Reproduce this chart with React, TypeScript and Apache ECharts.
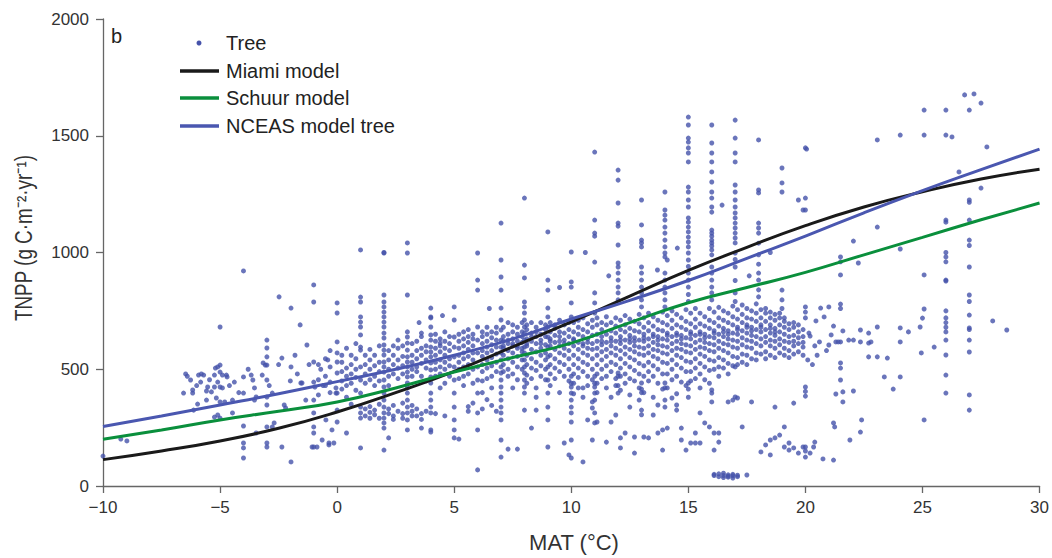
import React, { useEffect, useRef } from "react";
import * as echarts from "echarts";

// ---- Axis ticks ----
const xTicks = [-10, -5, 0, 5, 10, 15, 20, 25, 30];
const yTicks = [0, 500, 1000, 1500, 2000];

// ---- Model curves ----
const curveX = [-10, -7.5, -5, -2.5, 0, 2.5, 5, 7.5, 10, 12.5, 15, 17.5, 20, 22.5, 25, 27.5, 30];
const miami = [113, 150, 193, 247, 317, 400, 491, 596, 703, 813, 923, 1022, 1115, 1195, 1260, 1315, 1357];
const schuur = [200, 240, 283, 320, 360, 420, 488, 550, 612, 700, 785, 850, 915, 990, 1065, 1140, 1212];
const nceas = [255, 300, 347, 395, 447, 500, 560, 630, 715, 795, 880, 975, 1070, 1170, 1265, 1355, 1443];

// ---- Tree observations: left region (MAT < 0) ----
const treeLeft: [number, number][] = [
  [-10, 128], [-9.24, 201], [-8.98, 193],
  [-6.56, 398], [-6.47, 480], [-6.26, 454], [-6.17, 411], [-6.17, 398], [-5.96, 351], [-6.13, 325],
  [-5.92, 475], [-5.8, 480], [-5.7, 475], [-5.83, 445], [-5.58, 407], [-5.53, 424], [-5.37, 403],
  [-5.58, 368], [-5.24, 475], [-5.2, 505], [-5.1, 510], [-5.0, 518], [-5.0, 488], [-4.9, 475],
  [-5.1, 445], [-5.0, 424], [-4.9, 420], [-5.24, 424], [-5.16, 377], [-5.0, 360], [-4.8, 360],
  [-5.1, 304], [-5.24, 295], [-5.0, 291], [-4.73, 475], [-4.7, 467], [-4.47, 368], [-4.39, 445],
  [-4.47, 313], [-5.0, 681], [-3.67, 475], [-3.6, 454], [-3.53, 420], [-3.46, 381], [-3.53, 368],
  [-3.2, 475], [-3.16, 527], [-3.07, 518], [-3.46, 227], [-2.77, 398], [-2.69, 270], [-2.77, 253],
  [-2.26, 347], [-2.2, 334], [-1.55, 441], [-1.5, 441], [-1.34, 368], [-0.95, 424], [-0.48, 283],
  [-0.64, 197], [-0.35, 176], [-1.07, 167], [-0.86, 167], [-0.22, 240], [-0.14, 184], [-0.05, 420],
  [-0.05, 398], [-2.48, 810], [-1.97, 762], [-1.58, 690], [-1.29, 604], [-1.97, 510], [-2.36, 548],
  [-1.97, 103], [-2.36, 167], [-0.35, 184], [-6.4, 470], [-6.0, 430], [-5.45, 455], [-4.6, 430],
  [-4.2, 400], [-3.8, 500], [-2.5, 520], [-2.0, 450], [-1.7, 480], [-0.7, 500], [-0.4, 540],
  [-1.8, 560], [-2.9, 430], [-0.6, 430], [-1.2, 520],
];

// ---- Tree observations: vertical stripes at whole-degree MAT ----
const treeColumns: [number, number[]][] = [
  [-4, [921, 467, 398, 257, 184, 163, 120]],
  [-3, [625, 591, 553, 518, 454, 381, 347, 253, 184, 167]],
  [-1, [861, 788, 531, 445, 368, 313, 253, 227, 167]],
  [0, [784, 741, 617, 570, 531, 484, 398, 325, 274]],
  [1, [1011, 809, 788, 724, 702, 681, 647, 595, 582, 510, 454, 398, 338, 313, 291, 163]],
  [2, [998, 1000, 818, 788, 767, 745, 724, 702, 681, 655, 634, 604, 582, 561, 531, 510, 488, 454, 424, 398, 368, 338, 313, 291, 270, 248, 154]],
  [3, [1041, 998, 818, 660, 638, 612, 582, 553, 531, 510, 488, 467, 441, 420, 398, 368, 338, 313, 283, 240]],
  [4, [762, 724, 720, 681, 647, 625, 595, 574, 553, 527, 497, 467, 441, 398, 368, 338, 313, 240, 231]],
  [5, [767, 711, 638, 595, 553, 510, 454, 398, 338, 283, 240, 206]],
  [6, [998, 882, 839, 681, 625, 570, 510, 454, 398, 313, 240, 69]],
  [7, [1126, 968, 895, 839, 762, 711, 668, 625, 595, 570, 540, 510, 484, 454, 424, 398, 368, 338, 313, 283, 197, 124]],
  [8, [1233, 946, 891, 788, 767, 741, 711, 681, 655, 625, 595, 570, 540, 510, 484, 454, 424, 398, 325]],
  [9, [1088, 882, 839, 762, 724, 681, 638, 595, 553, 510, 454, 398, 338, 283, 167]],
  [10, [1002, 874, 852, 784, 724, 470, 440, 424, 398, 368, 338, 313, 274, 197, 120]],
  [11, [1430, 1139, 1083, 1070, 959, 827, 784, 741, 470, 440, 424, 398, 368, 313, 270]],
  [12, [1353, 1310, 1212, 1126, 1113, 1032, 955, 938, 912, 882, 852, 827, 797, 484, 470, 430, 398]],
  [13, [1225, 1118, 1053, 1041, 1024, 938, 912, 882, 852, 827, 797, 767, 441, 415, 400, 325, 305]],
  [14, [1259, 1182, 1160, 1139, 1109, 1083, 1053, 1024, 998, 981, 912, 882, 852, 827, 797, 767, 441, 420, 368, 338]],
  [15, [1580, 1546, 1490, 1473, 1448, 1426, 1388, 1280, 1259, 1225, 1195, 1148, 1130, 1109, 1088, 1066, 1045, 1024, 998, 968, 940, 912, 882, 852, 820, 790, 441, 415, 380]],
  [16, [1546, 1469, 1426, 1388, 1345, 1302, 1259, 1233, 1195, 1173, 1096, 1083, 1070, 1053, 1041, 1028, 1011, 990, 938, 912, 882, 852, 827, 797, 411, 398, 360]],
  [17, [1567, 1490, 1426, 1388, 1289, 1259, 1225, 1195, 1169, 1148, 1126, 1105, 1083, 1062, 1041, 998, 970, 938, 880, 827, 790, 510, 381]],
  [18, [1482, 1268, 1255, 1126, 1105, 1083, 1040, 990, 950, 912, 882, 840, 810]],
  [19, [1362, 1298, 1259, 839, 797, 760]],
  [20, [1448, 1233, 1182, 767, 745, 720, 424, 405, 385, 167, 150]],
  [26, [1610, 1503, 1139, 1130, 1000, 981, 960, 882, 878, 750, 720, 700, 680, 660, 625, 561, 475, 398]],
  [27, [1610, 1225, 1215, 1139, 1053, 1030, 938, 818, 790, 732, 677, 670, 625, 574, 390, 325]],
];

// ---- Tree observations: dense band, grouped by MAT ----
const treeBand: [number, number[]][] = [
  [-0.8, [455, 520, 390]], [-0.5, [470, 430, 545]], [-0.3, [510, 445, 400, 580]],
  [0.2, [450, 490, 530, 415, 560]], [0.4, [470, 505, 430, 590, 380, 227]], [0.6, [440, 520, 560, 480, 350]],
  [0.8, [500, 465, 545, 410, 610]], [1.2, [480, 520, 440, 560, 300, 330]], [1.4, [500, 455, 540, 585, 290, 315, 340]],
  [1.6, [470, 515, 430, 560, 305, 325]], [1.8, [490, 530, 450, 600, 290, 350]], [2.2, [500, 540, 470, 580, 430, 310, 330, 206]],
  [2.4, [520, 480, 560, 600, 300, 345, 285]], [2.6, [540, 505, 460, 590, 625, 320]], [2.8, [515, 480, 555, 600, 310, 355, 290]],
  [3.2, [530, 500, 560, 470, 610, 320, 300, 345]], [3.4, [545, 510, 580, 490, 620, 300, 330]], [3.6, [560, 525, 590, 470, 640, 310, 285, 248, 655]],
  [3.8, [540, 505, 575, 600, 450, 320]], [4.2, [560, 530, 590, 620, 500, 650, 470, 310]], [4.4, [575, 540, 600, 510, 630, 480, 420, 612]],
  [4.6, [560, 590, 620, 530, 500, 660, 440, 300]], [4.8, [580, 545, 610, 640, 515, 470]], [5.2, [590, 560, 620, 650, 530, 500, 460, 201]],
  [5.4, [600, 570, 630, 545, 660, 510, 470, 430]], [5.6, [585, 615, 640, 555, 670, 520, 480, 340, 320]], [5.8, [600, 630, 570, 650, 540, 500, 440, 355]],
  [6.2, [610, 580, 640, 660, 555, 520, 490, 450, 400, 330]], [6.4, [620, 595, 650, 570, 680, 540, 505, 460, 370]], [6.6, [605, 635, 660, 580, 550, 515, 470, 420, 345]],
  [6.8, [625, 595, 655, 680, 565, 530, 490, 320]],
  [7.1, [560, 600, 640, 520, 680, 590, 490, 620]], [7.3, [580, 610, 545, 650, 500, 700, 625, 470, 158]], [7.5, [600, 570, 630, 660, 530, 690, 610, 480, 420]],
  [7.7, [590, 620, 650, 555, 510, 680, 600, 455, 158]], [7.9, [575, 615, 640, 660, 540, 500, 700, 590]], [8.1, [600, 560, 630, 670, 520, 690, 610, 475, 440]],
  [8.3, [585, 620, 655, 545, 505, 700, 640, 460, 248]], [8.5, [610, 575, 640, 680, 530, 495, 660, 420, 380, 325]], [8.7, [590, 625, 560, 650, 700, 515, 470, 610]],
  [8.9, [605, 640, 570, 670, 540, 500, 690, 455]], [9.1, [600, 630, 560, 660, 700, 520, 480, 620, 430]], [9.3, [615, 585, 645, 675, 545, 505, 690, 460]],
  [9.5, [600, 640, 570, 660, 710, 530, 490, 620, 400]], [9.7, [590, 625, 655, 560, 690, 520, 470, 610, 184]], [9.9, [610, 580, 640, 670, 545, 500, 700, 450, 133]],
  [10.1, [600, 630, 560, 660, 700, 520, 480, 625, 440, 395]], [10.3, [615, 585, 650, 680, 545, 505, 710, 465, 420]], [10.5, [600, 640, 570, 670, 720, 530, 490, 610, 380, 420, 103]],
  [10.7, [590, 630, 660, 560, 695, 520, 470, 615, 430, 283]], [10.9, [610, 585, 645, 680, 545, 500, 710, 455, 360, 334, 197]], [11.1, [620, 590, 650, 690, 560, 520, 720, 480, 440, 400, 274]],
  [11.3, [605, 640, 575, 670, 700, 540, 500, 620, 460]], [11.5, [615, 585, 650, 690, 555, 515, 725, 470, 420, 188]], [11.7, [600, 635, 665, 570, 700, 530, 490, 620, 380, 274]],
  [11.9, [620, 590, 655, 685, 560, 520, 720, 460, 430, 304]], [12.1, [610, 640, 580, 670, 710, 545, 505, 625, 470, 410, 206, 163]], [12.3, [625, 595, 660, 690, 565, 525, 730, 480, 440, 227]],
  [12.5, [615, 645, 585, 675, 715, 550, 510, 630, 460, 390, 338]], [12.7, [600, 635, 665, 575, 705, 540, 495, 620, 450, 210, 141]], [12.9, [625, 595, 660, 695, 565, 525, 735, 480, 420, 368]],
  [13.1, [620, 650, 590, 680, 720, 560, 515, 635, 470, 400, 210]], [13.3, [630, 600, 665, 700, 570, 530, 740, 490, 450, 206]], [13.5, [615, 650, 585, 685, 725, 555, 515, 640, 470, 380, 304]],
  [13.7, [605, 640, 670, 580, 710, 545, 500, 625, 440, 347, 227]], [13.9, [630, 600, 665, 700, 570, 530, 745, 480, 415, 154, 240]], [14.1, [625, 655, 595, 690, 730, 565, 525, 645, 480, 420, 248]],
  [14.3, [640, 610, 675, 710, 580, 540, 750, 500, 455, 377]], [14.5, [620, 655, 590, 690, 735, 560, 520, 645, 470, 395, 325, 347]], [14.7, [610, 645, 680, 585, 720, 550, 505, 630, 445, 248, 197]],
  [14.9, [635, 605, 670, 705, 575, 535, 755, 490, 430, 154]], [15.1, [630, 660, 600, 695, 740, 570, 530, 650, 490, 450, 184]], [15.3, [645, 615, 680, 715, 585, 545, 760, 505, 460, 227, 184]],
  [15.5, [625, 660, 595, 695, 740, 565, 525, 650, 480, 420, 184, 313]], [15.7, [615, 650, 685, 590, 725, 555, 510, 635, 455, 270]], [15.9, [640, 610, 675, 710, 580, 540, 760, 495, 440, 253]],
  [16.1, [635, 665, 605, 700, 745, 575, 535, 655, 500, 227, 154, 50, 45]], [16.3, [650, 620, 685, 720, 590, 550, 765, 510, 470, 227, 188, 40, 52]], [16.5, [640, 675, 610, 710, 750, 580, 540, 660, 505, 45, 36, 55]],
  [16.7, [630, 665, 700, 605, 740, 570, 525, 650, 480, 360, 48, 38, 42]], [16.9, [655, 625, 690, 725, 595, 555, 770, 515, 368, 44, 34, 50]], [17.1, [650, 680, 620, 715, 755, 590, 550, 670, 520, 377, 40, 46]],
  [17.3, [665, 635, 700, 735, 605, 565, 775, 530, 253]], [17.5, [655, 690, 625, 720, 760, 595, 560, 680, 520, 47]], [17.7, [645, 680, 715, 620, 750, 590, 545, 665, 360]],
  [17.9, [670, 640, 705, 740, 610, 570, 780, 540]], [18.1, [660, 690, 630, 720, 755, 600, 565, 680, 146]], [18.3, [670, 640, 705, 740, 615, 575, 760, 545, 176]],
  [18.5, [655, 690, 625, 720, 745, 600, 560, 675, 133, 197]], [18.7, [645, 675, 710, 620, 735, 590, 550, 660, 338, 206]], [18.9, [660, 630, 690, 720, 605, 570, 740, 218]],
  [19.1, [650, 680, 620, 705, 590, 560, 720, 253, 167]], [19.3, [640, 670, 615, 695, 580, 550, 154, 184]], [19.5, [645, 620, 680, 600, 565, 700, 163, 355]],
  [19.7, [635, 660, 610, 690, 575, 141, 1225]], [19.9, [640, 615, 670, 595, 560, 167, 1182]],
];

// ---- Tree observations: right region (MAT > 20) and scattered extras ----
const treeRight: [number, number][] = [
  [20.05, 1443], [27.2, 1679], [26.8, 1675], [27.5, 1640], [27.75, 1452], [27.5, 1276], [26.56, 1345],
  [28.0, 707], [28.6, 668], [25.07, 1610], [25.07, 1503], [24.05, 1503], [23.07, 1482], [26.26, 1495],
  [23.07, 1109], [24.05, 1015], [22.05, 1049], [22.26, 955], [25.07, 904], [25.07, 758], [25, 719],
  [24.9, 681], [25.5, 595], [24.95, 570], [25.07, 283], [24.4, 660], [24.05, 677], [24.05, 617],
  [24.05, 467], [23.75, 415], [23.37, 467], [23.07, 681], [23.07, 553], [22.7, 553], [23.5, 548],
  [22.35, 668], [22.7, 655], [22.7, 612], [22.8, 617], [22.35, 617], [22.05, 625], [21.85, 625],
  [21.5, 617], [21.3, 617], [21.6, 664], [21.6, 403], [21.6, 360], [21.3, 394], [22.05, 407],
  [21.2, 270], [21.25, 253], [22.4, 283], [22.35, 231], [21.9, 197], [21.2, 111], [20.75, 116],
  [20.4, 188], [20.35, 167], [20.2, 141], [20.0, 124], [21.2, 685], [20.8, 724], [20.65, 762],
  [21.0, 767], [20.45, 707], [20.15, 655], [20.2, 642], [20.4, 600], [20.6, 617], [21.0, 604],
  [21.4, 617], [21.1, 647], [21.5, 981], [21.5, 960], [21.5, 904], [21.5, 779], [21.5, 760],
  [21.5, 527], [21.5, 505], [21.5, 454], [20.1, 540], [20.3, 520], [20.5, 560], [20.9, 580],
  [16.44, 1203], [14.53, 1019], [13.68, 925], [14.1, 968], [10.6, 1000], [9.5, 850], [6.5, 760],
  [4.5, 730], [3.5, 700], [11.6, 900], [18.5, 1000], [17.6, 900],
];

const DOT = "#4552aa";
const FONT = "'Liberation Sans', Arial, Helvetica, sans-serif";

function buildTree(): [number, number][] {
  const pts: [number, number][] = [];
  treeLeft.forEach((p) => pts.push(p));
  treeColumns.forEach(([x, ys]) => ys.forEach((y) => pts.push([x, y])));
  treeBand.forEach(([x, ys]) => ys.forEach((y) => pts.push([x, y])));
  treeRight.forEach((p) => pts.push(p));
  return pts;
}

const minus = (v: number) => String(v).replace("-", "\u2212");

export default function App() {
  const ref = useRef<HTMLDivElement>(null);
  useEffect(() => {
    if (!ref.current) return;
    const chart = echarts.init(ref.current, null, { renderer: "svg" });
    const line = (ys: number[]) => curveX.map((x, i) => [x, ys[i]]);
    const legendItems = [
      { name: "Miami model", color: "#1a1a1a", y: 71 },
      { name: "Schuur model", color: "#0a8f3c", y: 98 },
      { name: "NCEAS model tree", color: "#4a57b0", y: 126 },
    ];
    chart.setOption({
      animation: false,
      backgroundColor: "#ffffff",
      grid: { left: 103, right: 8, top: 19, bottom: 72 },
      xAxis: {
        type: "value",
        min: xTicks[0],
        max: xTicks[xTicks.length - 1],
        interval: 5,
        axisLine: { onZero: false, lineStyle: { color: "#666", width: 1.3 } },
        axisTick: { length: 7, lineStyle: { color: "#666", width: 1.3 } },
        axisLabel: { fontSize: 17, color: "#333", fontFamily: FONT, margin: 13, formatter: minus },
        splitLine: { show: false },
      },
      yAxis: {
        type: "value",
        min: yTicks[0],
        max: yTicks[yTicks.length - 1],
        interval: 500,
        axisLine: { show: true, onZero: false, lineStyle: { color: "#666", width: 1.3 } },
        axisTick: { show: true, length: 7, lineStyle: { color: "#666", width: 1.3 } },
        axisLabel: { fontSize: 17, color: "#333", fontFamily: FONT, margin: 14, formatter: (v: number) => String(v) },
        splitLine: { show: false },
      },
      series: [
        {
          name: "Tree",
          type: "scatter",
          data: buildTree(),
          symbol: "circle",
          symbolSize: 5,
          itemStyle: { color: DOT },
          z: 2,
        },
        {
          name: "Miami model",
          type: "line",
          data: line(miami),
          smooth: true,
          showSymbol: false,
          lineStyle: { color: "#1a1a1a", width: 3 },
          z: 3,
        },
        {
          name: "Schuur model",
          type: "line",
          data: line(schuur),
          smooth: true,
          showSymbol: false,
          lineStyle: { color: "#0a8f3c", width: 3 },
          z: 3,
        },
        {
          name: "NCEAS model tree",
          type: "line",
          data: line(nceas),
          smooth: true,
          showSymbol: false,
          lineStyle: { color: "#4a57b0", width: 3 },
          z: 3,
        },
      ],
      graphic: [
        { type: "text", x: 111, y: 26, style: { text: "b", fontSize: 20, fill: "#222", fontFamily: FONT } },
        {
          type: "text",
          x: 24,
          y: 238,
          rotation: Math.PI / 2,
          scaleX: 0.82,
          style: {
            text: "TNPP (g C\u00b7m\u207b\u00b2\u00b7yr\u207b\u00b9)",
            fontSize: 23,
            fill: "#333",
            fontFamily: FONT,
            align: "center",
            verticalAlign: "middle",
          },
        },
        {
          type: "text",
          x: 574,
          y: 542,
          style: { text: "MAT (\u00b0C)", fontSize: 22, fill: "#333", fontFamily: FONT, align: "center", verticalAlign: "middle" },
        },
        { type: "circle", shape: { cx: 199, cy: 43, r: 2.5 }, style: { fill: DOT } },
        { type: "text", x: 226, y: 43, style: { text: "Tree", fontSize: 20, fill: "#222", fontFamily: FONT, verticalAlign: "middle" } },
        ...legendItems.flatMap((it) => [
          { type: "line", shape: { x1: 180, y1: it.y, x2: 219, y2: it.y }, style: { stroke: it.color, lineWidth: 3.5 } },
          { type: "text", x: 226, y: it.y, style: { text: it.name, fontSize: 20, fill: "#222", fontFamily: FONT, verticalAlign: "middle" } },
        ]),
      ],
    });
    return () => chart.dispose();
  }, []);
  return <div ref={ref} style={{ width: 1052, height: 558, position: "absolute", left: 0, top: 0 }} />;
}
